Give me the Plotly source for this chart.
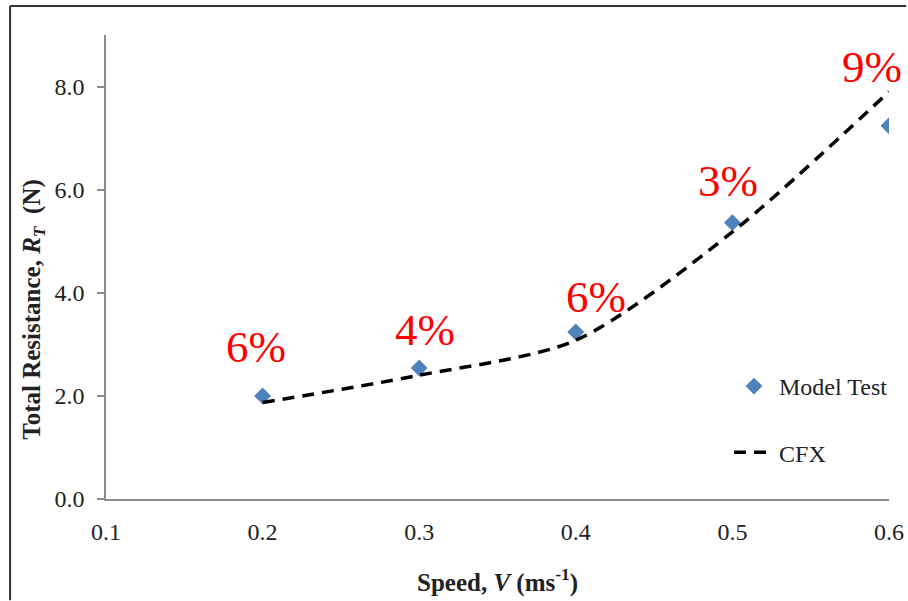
import plotly.graph_objects as go

speed = [0.2, 0.3, 0.4, 0.5, 0.6]
model_test = [2.00, 2.54, 3.24, 5.36, 7.24]
cfx = [1.87, 2.40, 3.08, 5.18, 7.90]

diff_labels = ["6%", "4%", "6%", "3%", "9%"]
label_x = [0.196, 0.304, 0.413, 0.497, 0.589]
label_y = [2.95, 3.28, 3.92, 6.16, 8.37]

x_ticks = [0.1, 0.2, 0.3, 0.4, 0.5, 0.6]
y_ticks = [0, 2, 4, 6, 8]

SERIF = "Liberation Serif"

fig = go.Figure()
fig.add_trace(go.Scatter(
    x=speed, y=model_test, mode="markers", name="Model Test",
    marker=dict(symbol="diamond", size=13, color="#4F81BD"),
    legendgroup="a",
))
fig.add_trace(go.Scatter(
    x=speed, y=cfx, mode="lines", name="CFX",
    line=dict(color="black", width=3.5, dash="12px,8px", shape="spline", smoothing=0.8),
    legendgroup="b",
))

for t, lx, ly in zip(diff_labels, label_x, label_y):
    fig.add_annotation(x=lx, y=ly, text=t, showarrow=False,
                       font=dict(family=SERIF, size=45, color="#FF0000"),
                       xanchor="center", yanchor="middle")

# axis titles
fig.add_annotation(xref="paper", yref="paper", x=0.50, y=-0.175,
                   text="<b>Speed, <i>V</i> (ms<sup>-1</sup>)</b>", showarrow=False,
                   font=dict(family=SERIF, size=25, color="#222"),
                   xanchor="center", yanchor="middle")
fig.add_annotation(xref="paper", yref="paper", x=-0.092, y=0.41,
                   text="<b>Total Resistance, <i>R</i><sub><i>T</i></sub>  (N)</b>", showarrow=False,
                   textangle=-90,
                   font=dict(family=SERIF, size=25, color="#222"),
                   xanchor="center", yanchor="middle")

# outer frame (top and left edges visible)
fig.add_shape(type="line", xref="paper", yref="paper", x0=-0.1225, x1=1.022, y0=1.0625, y1=1.0625,
              line=dict(color="#333", width=2))
fig.add_shape(type="line", xref="paper", yref="paper", x0=-0.1225, x1=-0.1225, y0=1.0625, y1=-0.218,
              line=dict(color="#333", width=2))

fig.update_layout(
    width=908, height=601, autosize=False,
    margin=dict(l=106, r=19, t=35, b=102, autoexpand=False),
    paper_bgcolor="white", plot_bgcolor="white",
    font=dict(family=SERIF, size=24, color="#222"),
    showlegend=True,
    legend=dict(x=0.7957, y=0.291, xanchor="left", yanchor="top",
                font=dict(family=SERIF, size=24, color="#222"),
                tracegroupgap=32, itemwidth=40, bgcolor="rgba(0,0,0,0)"),
    xaxis=dict(range=[0.1, 0.6], tickvals=x_ticks, tickformat=".1f", automargin=False,
               showgrid=False, zeroline=False, showline=True, linecolor="#8c8c8c", linewidth=1.5,
               ticks="", ticklabelstandoff=10),
    yaxis=dict(range=[0, 9], tickvals=y_ticks, tickformat=".1f", automargin=False,
               showgrid=False, zeroline=False, showline=True, linecolor="#8c8c8c", linewidth=1.5,
               ticks="outside", ticklen=7, tickcolor="#8c8c8c", tickwidth=1.5, ticklabelstandoff=8),
)

fig.write_html("out.html")
